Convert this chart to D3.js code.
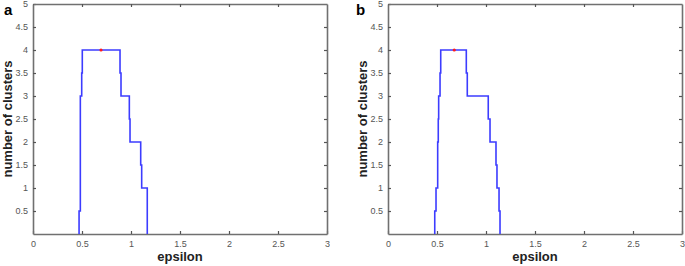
<!DOCTYPE html>
<html>
<head>
<meta charset="utf-8">
<style>
  body { margin: 0; background: #fff; }
  svg { display: block; }
  .tick text { font-family: "Liberation Sans", Arial, sans-serif; font-size: 9px; fill: #555; }
  .axis-title { font-family: "Liberation Sans", Arial, sans-serif; font-weight: bold; font-size: 13px; fill: #222; }
  .panel-letter { font-family: "Liberation Sans", Arial, sans-serif; font-weight: bold; font-size: 15px; fill: #000; }
</style>
</head>
<body>
<script src="https://cdnjs.cloudflare.com/ajax/libs/d3/7.8.5/d3.min.js"></script>
<script>

// tick labels
var xTicks = [0, 0.5, 1, 1.5, 2, 2.5, 3];
var yTicks = [0.5, 1, 1.5, 2, 2.5, 3, 3.5, 4, 4.5, 5];

// panel a: epsilon vs number of clusters (step curve)
var epsA      = [0.47, 0.47, 0.483, 0.483, 0.497, 0.497, 0.503, 0.503, 0.888, 0.888, 0.898, 0.898, 0.983, 0.983, 0.99, 0.99, 1.099, 1.099, 1.109, 1.109, 1.166, 1.166];
var clustersA = [0,    0.5,  0.5,   3,     3,     3.5,   3.5,   4,     4,     3.5,   3.5,   3,     3,     2.5,   2.5,  2,    2,     1.5,   1.5,   1,     1,     0];
var peakA = [0.694, 4];

// panel b
var epsB      = [0.477, 0.477, 0.49, 0.49, 0.507, 0.507, 0.513, 0.513, 0.517, 0.517, 0.531, 0.531, 0.538, 0.538, 0.799, 0.799, 0.809, 0.809, 1.023, 1.023, 1.041, 1.041, 1.102, 1.102, 1.112, 1.112, 1.133, 1.133, 1.143, 1.143];
var clustersB = [0,     0.5,   0.5,  1,    1,     2,     2,     2.5,   2.5,   3,     3,     3.5,   3.5,   4,     4,     3.5,   3.5,   3,     3,     2.5,   2.5,   2,     2,     1.5,   1.5,   1,     1,     0.5,   0.5,   0];
var peakB = [0.676, 4];

var panels = [
    { letter: "a", eps: epsA, clusters: clustersA, peak: peakA, left: 33, letterX: 4, clipX: 0, clipW: 330 },
    { letter: "b", eps: epsB, clusters: clustersB, peak: peakB, left: 388, letterX: 356, clipX: 340, clipW: 345 }
];

var W = 685, H = 266;
var plotW = 294, plotTop = 4, plotBottom = 234;

var svg = d3.select("body").append("svg")
    .attr("width", W)
    .attr("height", H);

panels.forEach(function (p, k) {
    var x = d3.scaleLinear().domain([0, 3]).range([p.left, p.left + plotW]);
    var y = d3.scaleLinear().domain([0, 5]).range([plotBottom, plotTop]);

    var clipId = "clip" + k;
    svg.append("clipPath").attr("id", clipId)
        .append("rect").attr("x", p.clipX).attr("y", 0).attr("width", p.clipW).attr("height", H);

    var g = svg.append("g").attr("clip-path", "url(#" + clipId + ")");

    // bottom axis
    var xAxis = g.append("g")
        .attr("transform", "translate(0," + plotBottom + ")")
        .call(d3.axisBottom(x).tickValues(xTicks).tickFormat(d3.format("")).tickSizeInner(-3).tickSizeOuter(0).tickPadding(7));
    // left axis
    var yAxis = g.append("g")
        .attr("transform", "translate(" + p.left + ",0)")
        .call(d3.axisLeft(y).tickValues(yTicks).tickFormat(d3.format("")).tickSizeInner(-3).tickSizeOuter(0).tickPadding(5));
    // top axis
    var tAxis = g.append("g")
        .attr("transform", "translate(0," + plotTop + ")")
        .call(d3.axisTop(x).tickValues(xTicks.slice(1, -1)).tickFormat("").tickSizeInner(-3).tickSizeOuter(0));
    // right axis
    var rAxis = g.append("g")
        .attr("transform", "translate(" + (p.left + plotW) + ",0)")
        .call(d3.axisRight(y).tickValues(yTicks.slice(0, -1)).tickFormat("").tickSizeInner(-3).tickSizeOuter(0));

    [xAxis, yAxis, tAxis, rAxis].forEach(function (a) {
        a.select(".domain").attr("stroke", "#707070").attr("stroke-width", 1.6);
        a.selectAll(".tick line").attr("stroke", "#555").attr("stroke-width", 1.2);
    });

    // step curve
    var pts = p.eps.map(function (e, i) { return [e, p.clusters[i]]; });
    g.append("path")
        .datum(pts)
        .attr("fill", "none")
        .attr("stroke", "#3c3cff")
        .attr("stroke-width", 1.6)
        .attr("d", d3.line().x(function (d) { return x(d[0]); }).y(function (d) { return y(d[1]); }));

    // peak marker
    g.append("circle")
        .attr("cx", x(p.peak[0]))
        .attr("cy", y(p.peak[1]))
        .attr("r", 1.6)
        .attr("fill", "#ff1a1a");

    // titles
    svg.append("text")
        .attr("class", "axis-title")
        .attr("x", x(1.5))
        .attr("y", 261)
        .attr("text-anchor", "middle")
        .text("epsilon");

    svg.append("text")
        .attr("class", "axis-title")
        .attr("transform", "translate(" + (p.left - 21) + "," + ((plotTop + plotBottom) / 2) + ") rotate(-90)")
        .attr("text-anchor", "middle")
        .text("number of clusters");

    svg.append("text")
        .attr("class", "panel-letter")
        .attr("x", p.letterX)
        .attr("y", 15)
        .text(p.letter);
});
</script>
</body>
</html>
